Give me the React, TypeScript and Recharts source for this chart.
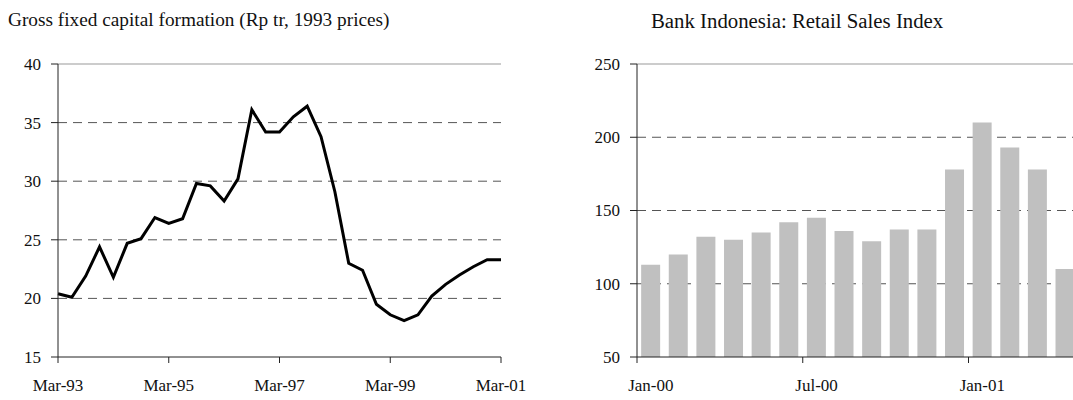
import {
    LineChart,
    Line,
    BarChart,
    Bar,
    XAxis,
    YAxis,
    CartesianGrid,
    ReferenceLine,
} from "recharts";

const quarters = [
    "Mar-93", "Jun-93", "Sep-93", "Dec-93",
    "Mar-94", "Jun-94", "Sep-94", "Dec-94",
    "Mar-95", "Jun-95", "Sep-95", "Dec-95",
    "Mar-96", "Jun-96", "Sep-96", "Dec-96",
    "Mar-97", "Jun-97", "Sep-97", "Dec-97",
    "Mar-98", "Jun-98", "Sep-98", "Dec-98",
    "Mar-99", "Jun-99", "Sep-99", "Dec-99",
    "Mar-00", "Jun-00", "Sep-00", "Dec-00",
    "Mar-01",
];

const gfcf = [
    20.4, 20.1, 21.9, 24.4, 21.8, 24.7, 25.1, 26.9,
    26.4, 26.8, 29.8, 29.6, 28.3, 30.2, 36.1, 34.2,
    34.2, 35.5, 36.4, 33.8, 29.1, 23.0, 22.4, 19.5,
    18.6, 18.1, 18.6, 20.2, 21.2, 22.0, 22.7, 23.3,
    23.3,
];

const months = [
    "Jan-00", "Feb-00", "Mar-00", "Apr-00", "May-00", "Jun-00",
    "Jul-00", "Aug-00", "Sep-00", "Oct-00", "Nov-00", "Dec-00",
    "Jan-01", "Feb-01", "Mar-01", "Apr-01",
];

const retailIndex = [
    113, 120, 132, 130, 135, 142, 145, 136,
    129, 137, 137, 178, 210, 193, 178, 110,
];

const gfcfTicks = [15, 20, 25, 30, 35, 40];
const gfcfGrid = [20, 25, 30, 35];
const retailTicks = [50, 100, 150, 200, 250];
const retailGrid = [100, 150, 200];

const lineData = quarters.map((q, i) => ({ q, v: gfcf[i] }));
const barData = months.map((m, i) => ({ m, v: retailIndex[i] }));

const FONT = "'Liberation Serif', 'Times New Roman', serif";
const textCss = { fontFamily: FONT, fontSize: 17 };

function XTick(props: any) {
    const { x, y, payload } = props;
    return (
        <text x={x} y={y} dy="0.71em" textAnchor="middle" fill="#111" style={textCss}>
            {payload.value}
        </text>
    );
}

function YTick(props: any) {
    const { x, y, payload } = props;
    return (
        <text x={x} y={y} dy="0.35em" textAnchor="end" fill="#111" style={textCss}>
            {payload.value}
        </text>
    );
}

// tick mark on the category boundary, label centred under the bar
function BoundaryTick(props: any) {
    const { x, y, payload } = props;
    const half = payload && payload.offset ? payload.offset : 0;
    return (
        <g>
            <line x1={x - half} x2={x - half} y1={y - 22} y2={y - 16} stroke="#222" />
            <text x={x} y={y} dy="0.71em" textAnchor="middle" fill="#111" style={textCss}>
                {payload.value}
            </text>
        </g>
    );
}

const titleStyle: any = {
    position: "absolute",
    top: 9,
    fontFamily: FONT,
    color: "#111",
    whiteSpace: "nowrap",
};

export default function App() {
    return (
        <div
            style={{
                position: "absolute",
                left: 0,
                top: 0,
                width: 1073,
                height: 400,
                overflow: "hidden",
                background: "#fff",
                fontFamily: FONT,
            }}
        >
            <div style={{ ...titleStyle, left: 8, fontSize: 19.3 }}>
                Gross fixed capital formation (Rp tr, 1993 prices)
            </div>
            <div style={{ ...titleStyle, left: 651, fontSize: 20.8 }}>
                Bank Indonesia: Retail Sales Index
            </div>

            <div style={{ position: "absolute", left: 0, top: 0 }}>
                <LineChart
                    width={540}
                    height={400}
                    data={lineData}
                    margin={{ top: 64, right: 39, bottom: 0, left: 0 }}
                >
                    <CartesianGrid
                        vertical={false}
                        stroke="#555"
                        strokeDasharray="9 6"
                        horizontalValues={gfcfGrid}
                    />
                    <ReferenceLine y={40} stroke="#999" />
                    <XAxis
                        dataKey="q"
                        height={43}
                        interval={7}
                        tickSize={6}
                        tickMargin={16}
                        tick={<XTick />}
                        tickLine={{ stroke: "#222" }}
                        axisLine={{ stroke: "#222" }}
                    />
                    <YAxis
                        width={58}
                        domain={[15, 40]}
                        ticks={gfcfTicks}
                        tickSize={7}
                        tickMargin={10}
                        tick={<YTick />}
                        tickLine={{ stroke: "#222" }}
                        axisLine={{ stroke: "#222" }}
                    />
                    <YAxis
                        yAxisId="right"
                        orientation="right"
                        width={0}
                        domain={[15, 40]}
                        tick={false}
                        tickLine={false}
                        axisLine={{ stroke: "#999" }}
                    />
                    <Line
                        type="linear"
                        dataKey="v"
                        stroke="#000"
                        strokeWidth={3}
                        dot={false}
                        isAnimationActive={false}
                    />
                </LineChart>
            </div>

            <div style={{ position: "absolute", left: 580, top: 0 }}>
                <BarChart
                    width={500}
                    height={400}
                    data={barData}
                    margin={{ top: 64, right: 1, bottom: 0, left: 0 }}
                    barCategoryGap="15%"
                >
                    <CartesianGrid
                        vertical={false}
                        stroke="#555"
                        strokeDasharray="9 6"
                        horizontalValues={retailGrid}
                    />
                    <ReferenceLine y={250} stroke="#999" />
                    <XAxis
                        dataKey="m"
                        height={43}
                        interval={5}
                        tickSize={6}
                        tickMargin={16}
                        tickLine={false}
                        tick={<BoundaryTick />}
                        axisLine={{ stroke: "#222" }}
                    />
                    <YAxis
                        width={57}
                        domain={[50, 250]}
                        ticks={retailTicks}
                        allowDataOverflow
                        tickSize={7}
                        tickMargin={10}
                        tick={<YTick />}
                        tickLine={{ stroke: "#222" }}
                        axisLine={{ stroke: "#222" }}
                    />
                    <Bar dataKey="v" fill="#c0c0c0" isAnimationActive={false} />
                </BarChart>
            </div>
        </div>
    );
}
